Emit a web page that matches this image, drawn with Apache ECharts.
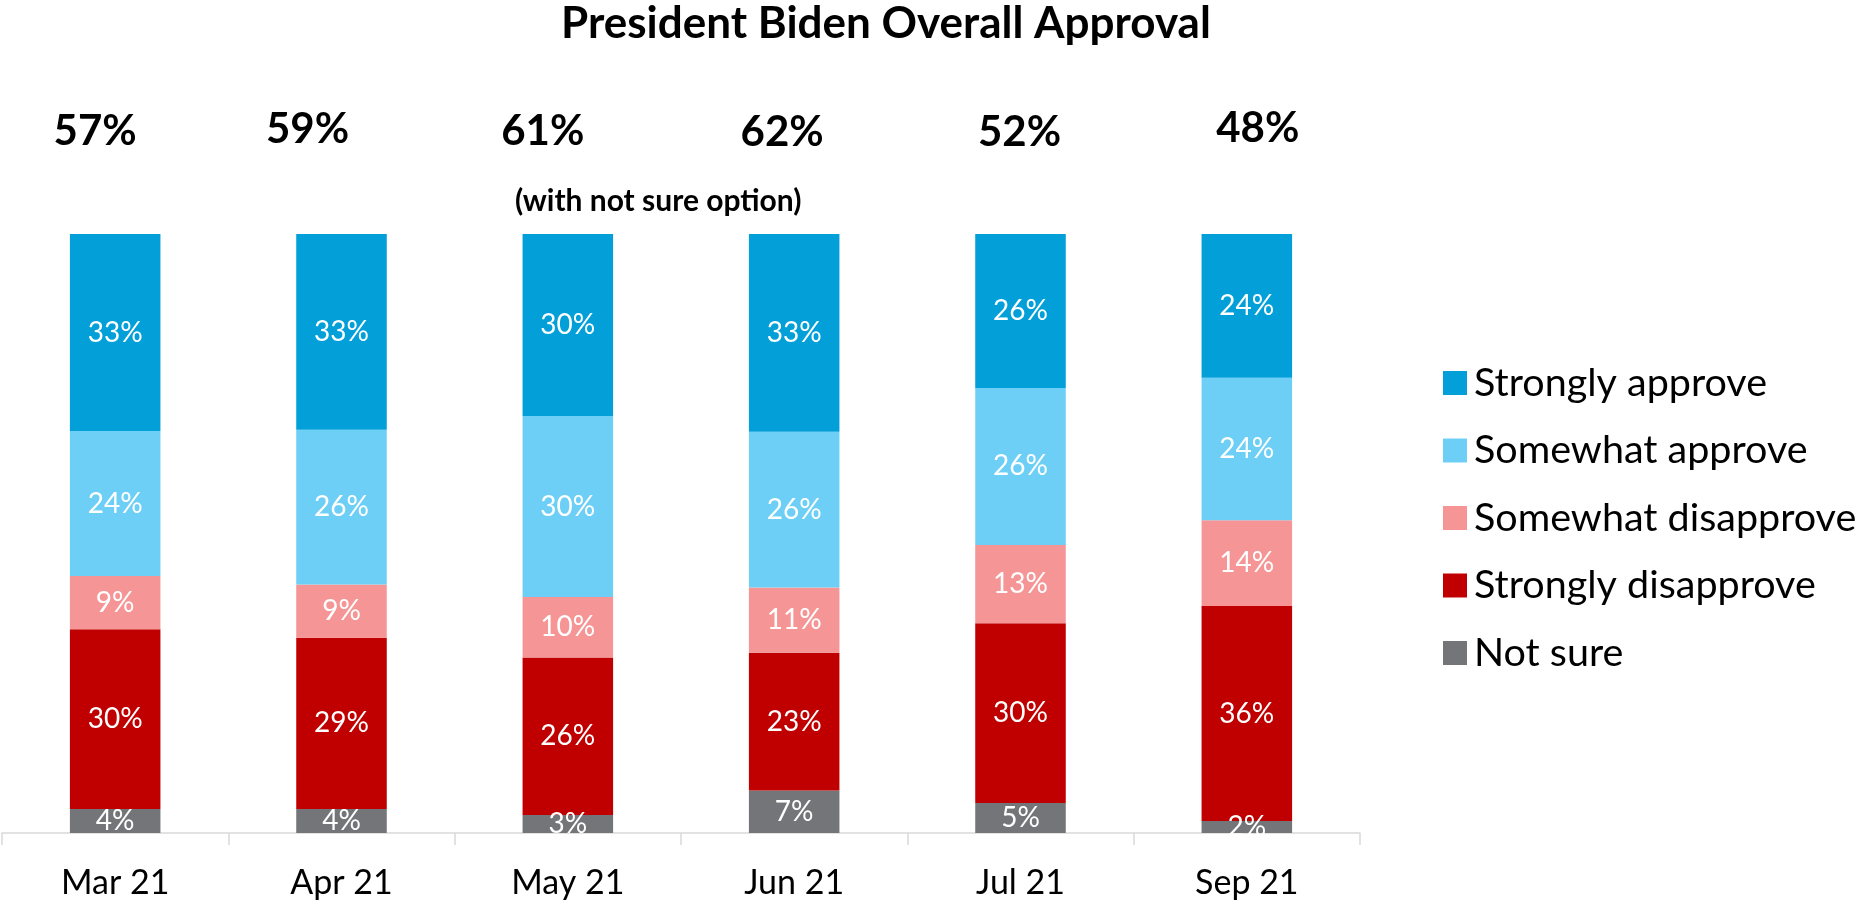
<!DOCTYPE html>
<html>
<head>
<meta charset="utf-8">
<script src="https://cdn.jsdelivr.net/npm/echarts@6/dist/echarts.min.js"></script>
<style>
html,body{margin:0;padding:0;background:#fff;}
#chart{width:1863px;height:901px;}
</style>
</head>
<body>
<div id="chart"></div>
<script>
// ---- data ----
const categories = ['Mar 21', 'Apr 21', 'May 21', 'Jun 21', 'Jul 21', 'Sep 21'];
const notSure = [4.0, 4.0, 3.0, 7.1, 5.0, 2.0];
const stronglyDisapprove = [30.0, 28.6, 26.3, 23.0, 30.0, 35.9];
const somewhatDisapprove = [8.9, 8.9, 10.1, 10.9, 13.1, 14.3];
const somewhatApprove = [24.2, 25.8, 30.2, 26.0, 26.2, 23.8];
const stronglyApprove = [32.9, 32.7, 30.4, 33.0, 25.7, 24.0];
const approveTotals = [57, 59, 61, 62, 52, 48];
const seriesNames = ['Strongly approve', 'Somewhat approve', 'Somewhat disapprove', 'Strongly disapprove', 'Not sure'];

// ---- layout / style (not data) ----
const totalLabelNudge = [[-20, 0], [-34, -2], [-25, 0], [-12, 1], [-1, 1], [11, -3]];
const colors = {
  'Strongly approve': '#029FD9',
  'Somewhat approve': '#6DCFF6',
  'Somewhat disapprove': '#F59595',
  'Strongly disapprove': '#C00000',
  'Not sure': '#737579'
};
const FONT = 'Lato';

const stackOrder = [
  ['Not sure', notSure],
  ['Strongly disapprove', stronglyDisapprove],
  ['Somewhat disapprove', somewhatDisapprove],
  ['Somewhat approve', somewhatApprove],
  ['Strongly approve', stronglyApprove]
];

const barSeries = stackOrder.map(([name, vals]) => ({
  name: name,
  type: 'bar',
  stack: 'total',
  barWidth: '40%',
  data: vals,
  itemStyle: { color: colors[name] },
  label: {
    show: true,
    position: 'inside',
    color: '#fff',
    fontFamily: FONT,
    fontSize: 28,
    formatter: p => Math.round(p.value) + '%'
  },
  emphasis: { disabled: true }
}));

const stackTops = categories.map((c, i) => stackOrder.reduce((s, [, v]) => s + v[i], 0));

const totalSeries = {
  name: 'totals',
  type: 'scatter',
  symbolSize: 0,
  silent: true,
  itemStyle: { opacity: 1, color: '#000' },
  data: stackTops.map((t, i) => ({
    value: [i, t],
    label: {
      show: true,
      position: 'top',
      distance: 82,
      offset: totalLabelNudge[i],
      formatter: approveTotals[i] + '%',
      fontFamily: FONT,
      fontWeight: 'bold',
      fontSize: 42,
      lineHeight: 42,
      color: '#000',
      opacity: 1
    }
  }))
};

const chart = echarts.init(document.getElementById('chart'), null, { renderer: 'canvas' });
chart.setOption({
  animation: false,
  backgroundColor: '#fff',
  title: {
    text: 'President Biden Overall Approval',
    left: 881,
    textAlign: 'center',
    top: -3,
    textStyle: { fontFamily: FONT, fontWeight: 'bold', fontSize: 44, color: '#000' }
  },
  graphic: [{
    type: 'text',
    left: 515,
    top: 186,
    style: {
      text: '(with not sure option)',
      fontFamily: FONT,
      fontWeight: 'bold',
      fontSize: 30,
      fill: '#000'
    }
  }],
  legend: {
    orient: 'vertical',
    left: 1438,
    top: 358,
    itemWidth: 24,
    itemHeight: 24,
    itemGap: 27.5,
    icon: 'rect',
    data: seriesNames,
    textStyle: { fontFamily: FONT, fontSize: 39.5, color: '#000', lineHeight: 40, padding: [0, 0, 0, 2] }
  },
  grid: { left: 2, right: 503, top: 234, bottom: 68 },
  xAxis: {
    type: 'category',
    data: categories,
    axisLine: { lineStyle: { color: '#d9d9d9', width: 1.5 } },
    axisTick: { show: true, length: 12, lineStyle: { color: '#d9d9d9', width: 1.5 } },
    axisLabel: { fontFamily: FONT, fontSize: 34, color: '#000', margin: 33 }
  },
  yAxis: { type: 'value', min: 0, max: 100, show: false },
  series: [...barSeries, totalSeries]
});
</script>
</body>
</html>
